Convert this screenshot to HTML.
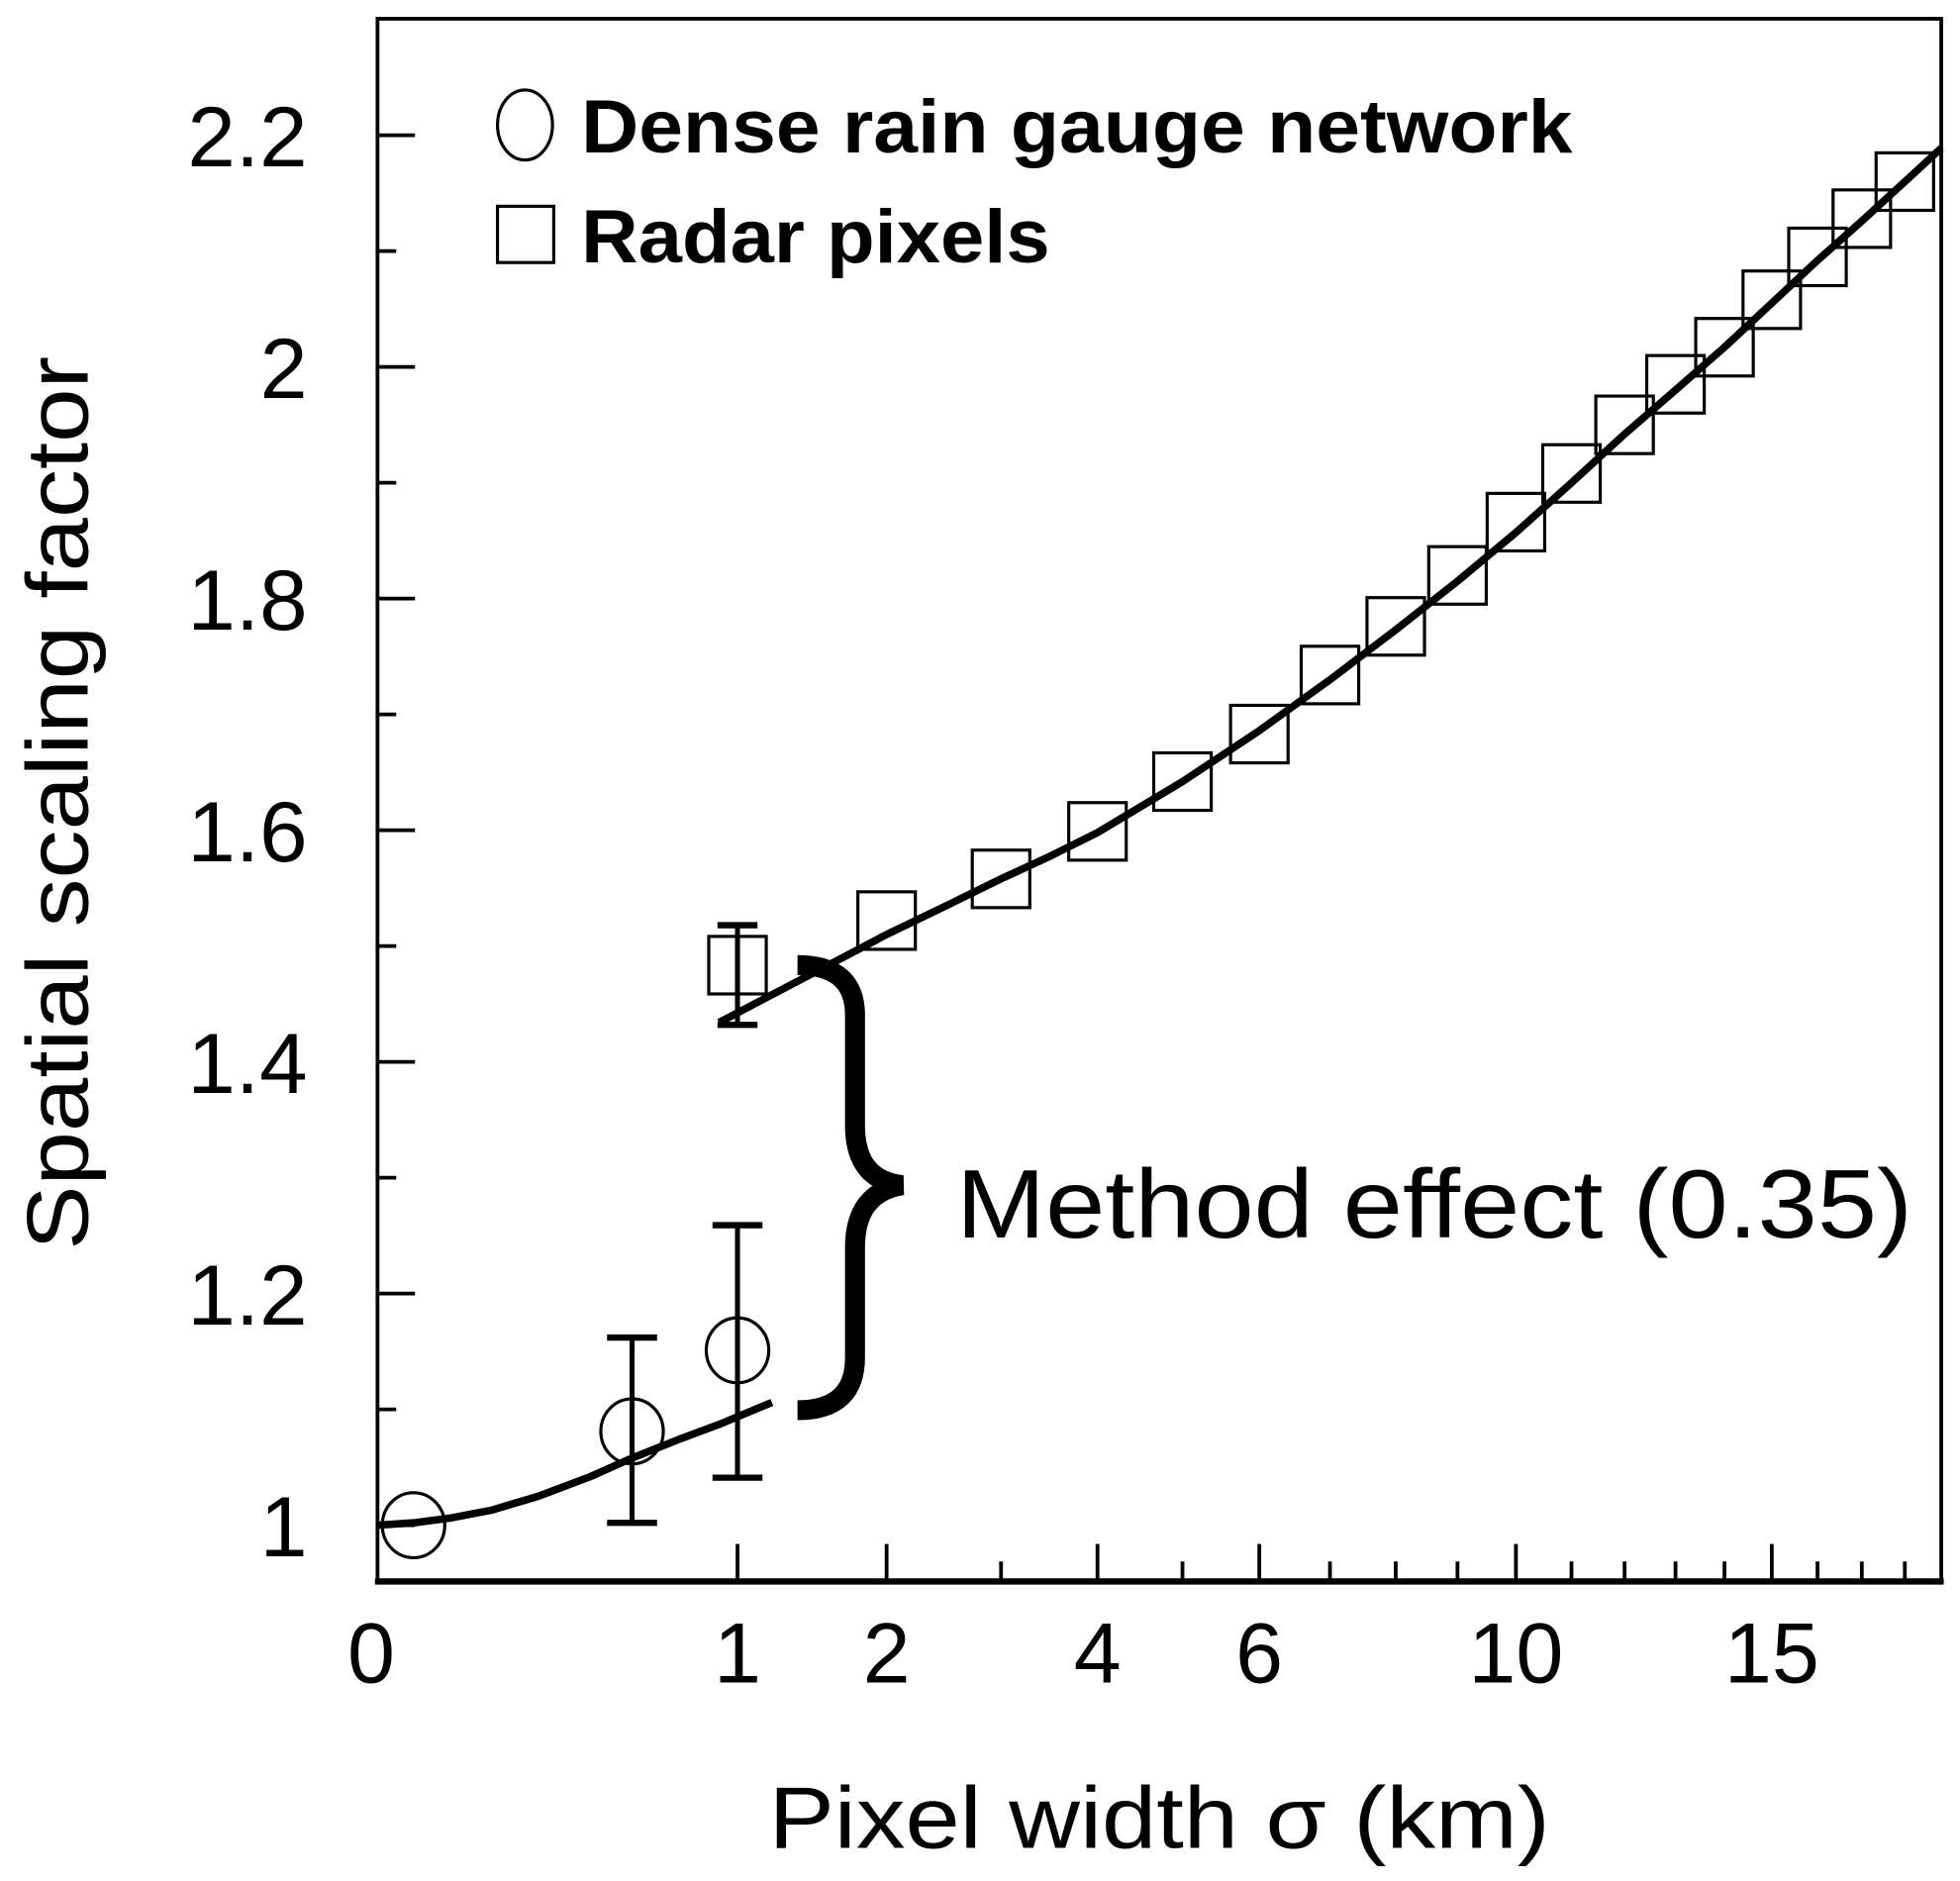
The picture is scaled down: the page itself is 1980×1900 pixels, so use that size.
<!DOCTYPE html>
<html><head><meta charset="utf-8"><style>
html,body{margin:0;padding:0;background:#fff;}
svg{display:block;}
text{font-family:"Liberation Sans",Arial,sans-serif;fill:#000;}
</style></head><body>
<svg id="chart" width="1980" height="1900" viewBox="0 0 1568 1504.6" preserveAspectRatio="none" xmlns="http://www.w3.org/2000/svg">
<g id="axes"></g>
<g id="marks"></g>
<path d="M638,772 Q684,772 684,812 L684,900 Q684,944 722,948 Q684,954 684,998 L684,1086 Q684,1128 638,1128" fill="none" stroke="#000" stroke-width="16"/>
<text x="765" y="990" font-size="78" textLength="765" lengthAdjust="spacingAndGlyphs">Method effect (0.35)</text>
<text x="615" y="1478" font-size="70" textLength="625" lengthAdjust="spacingAndGlyphs">Pixel width σ (km)</text>
<text transform="translate(70,1000) rotate(-90)" font-size="70" textLength="715" lengthAdjust="spacingAndGlyphs">Spatial scaling factor</text>
<g>
<ellipse cx="420" cy="100" rx="22" ry="28" fill="none" stroke="#000" stroke-width="2.5"/>
<text x="465" y="122" font-size="60" font-weight="bold" textLength="793" lengthAdjust="spacingAndGlyphs">Dense rain gauge network</text>
<rect x="398" y="165" width="45" height="45" fill="none" stroke="#000" stroke-width="2.5"/>
<text x="465" y="210" font-size="60" font-weight="bold" textLength="375" lengthAdjust="spacingAndGlyphs">Radar pixels</text>
</g>
</svg>
<script>
const gaugeX = [0.01, 0.5, 1];
const gaugeY = [1.0, 1.081, 1.151];
const gaugeLo = [null, 1.002, 1.041];
const gaugeHi = [null, 1.162, 1.259];
const radarX = [1,2,3,4,5,6,7,8,9,10,11,12,13,14,15,16,17,18];
const radarY = [1.4835,1.522,1.558,1.599,1.642,1.683,1.734,1.776,1.820,1.866,1.908,1.950,1.985,2.017,2.058,2.095,2.128,2.160];
const radarLo = [1.432];
const radarHi = [1.518];
const gaugeFitX = [0,0.01,0.04,0.1,0.2,0.35,0.5,0.7,0.9,1.2];
const gaugeFitY = [1.0,1.002,1.006,1.013,1.025,1.042,1.058,1.074,1.087,1.106];
const radarFitX = [0.9,1.2,1.5,2,2.5,3,3.5,4,5,6,7,8,9,10,11,12,13,14,15,16,17,18,18.87];
const radarFitY = [1.434,1.458,1.479,1.51,1.535,1.558,1.578,1.598,1.642,1.686,1.73,1.773,1.815,1.857,1.9,1.942,1.98,2.017,2.055,2.092,2.126,2.16,2.189];
const yTicks = [1.0,1.1,1.2,1.3,1.4,1.5,1.6,1.7,1.8,1.9,2.0,2.1,2.2];
const yLabels = ["1","1.2","1.4","1.6","1.8","2","2.2"];
const yLabelVals = [1.0,1.2,1.4,1.6,1.8,2.0,2.2];
const xMajor = [1,2,4,6,10,15];
const xMinor = [3,5,7,8,9,11,12,13,14,16,17,18];
const xLabels = ["0","1","2","4","6","10","15"];
const xLabelVals = [0,1,2,4,6,10,15];

const L=302,R=1553,T=15,B=1265;
function sx(v){return L+288*Math.sqrt(v);}
function sy(v){return 1220-(v-1.0)*926.5;}
function tlen(s){let w=0;for(const c of s)w+=(c==='.')?20:38;return w;}
const NS="http://www.w3.org/2000/svg";
function mk(parent,tag,attrs){const e=document.createElementNS(NS,tag);for(const k in attrs)e.setAttribute(k,attrs[k]);parent.appendChild(e);return e;}
const ax=document.getElementById('axes'), mg=document.getElementById('marks');

let e=mk(ax,'rect',{x:L,y:T,width:R-L,height:B-T,fill:'none',stroke:'#000','stroke-width':3});


e=mk(ax,'line',{x1:L-2,y1:B,x2:R+2,y2:B,stroke:'#000','stroke-width':5});


yTicks.forEach((v,i)=>{const major=(Math.round(v*10)%2===0);
 const t=mk(ax,'line',{x1:L,y1:sy(v),x2:L+(major?30:15),y2:sy(v),stroke:'#000','stroke-width':3});
 
 });
yLabels.forEach((s,i)=>{const t=mk(ax,'text',{x:246-tlen(s),y:sy(yLabelVals[i])+25,'font-size':68,textLength:tlen(s),lengthAdjust:'spacingAndGlyphs'});t.textContent=s;
 
 });
xMajor.forEach(v=>{const t=mk(ax,'line',{x1:sx(v),y1:B,x2:sx(v),y2:B-30,stroke:'#000','stroke-width':3});
 
 });
xMinor.forEach(v=>{const t=mk(ax,'line',{x1:sx(v),y1:B,x2:sx(v),y2:B-16,stroke:'#000','stroke-width':3});
 
 });
xLabels.forEach((s,i)=>{const w=tlen(s);const t=mk(ax,'text',{x:sx(xLabelVals[i])-(i===0?5:0)-w/2,y:1346,'font-size':68,textLength:w,lengthAdjust:'spacingAndGlyphs'});t.textContent=s;
 
 });

function line(xs,ys,name){const d=xs.map((x,i)=>(i?'L':'M')+sx(x).toFixed(1)+','+sy(ys[i]).toFixed(1)).join(' ');
 const p=mk(mg,'path',{d:d,fill:'none',stroke:'#000','stroke-width':6,'stroke-linejoin':'round'});
 
 }
line(gaugeFitX,gaugeFitY,'gauge-fit-line');
line(radarFitX,radarFitY,'radar-fit-line');

function errbar(x,lo,hi,cap){const g=mk(mg,'g',{stroke:'#000','stroke-width':4});
 
 
 mk(g,'line',{x1:sx(x),y1:sy(lo),x2:sx(x),y2:sy(hi)});
 mk(g,'line',{x1:sx(x)-cap,y1:sy(lo),x2:sx(x)+cap,y2:sy(lo),'stroke-width':5});
 mk(g,'line',{x1:sx(x)-cap,y1:sy(hi),x2:sx(x)+cap,y2:sy(hi),'stroke-width':5});}

gaugeX.forEach((x,i)=>{const c=mk(mg,'ellipse',{cx:sx(x),cy:sy(gaugeY[i]),rx:25,ry:26,fill:'none',stroke:'#000','stroke-width':2.5});
 
 
 if(gaugeLo[i]!==null) errbar(x,gaugeLo[i],gaugeHi[i],20);});
radarX.forEach((x,i)=>{const s=mk(mg,'rect',{x:sx(x)-23,y:sy(radarY[i])-23,width:46,height:46,fill:'none',stroke:'#000','stroke-width':2.5});
 
 
 if(i<radarLo.length) errbar(x,radarLo[i],radarHi[i],16);});
</script>
</body></html>
